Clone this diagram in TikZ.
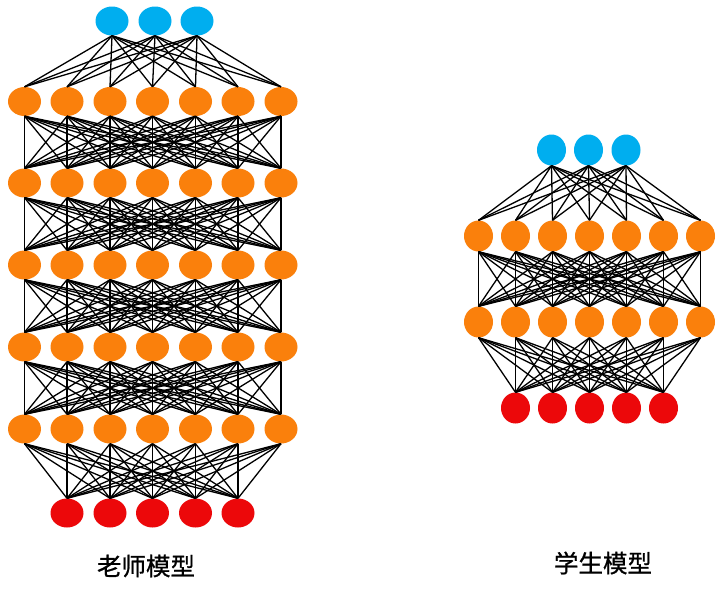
\documentclass[tikz,border=0pt]{standalone}
\usepackage{fontspec}
\newfontfamily\cjk[FakeBold=0.9]{Noto Sans CJK SC}
\usetikzlibrary{shapes.geometric}
\definecolor{nnblue}{RGB}{0,174,239}
\definecolor{nnorange}{RGB}{250,128,12}
\definecolor{nnred}{RGB}{236,8,10}
\tikzset{
  neuron/.style={ellipse, inner sep=0pt, draw=none},
  tneuron/.style={neuron, minimum width=33pt, minimum height=29pt},
  sneuron/.style={neuron, minimum width=29pt, minimum height=31pt},
  bluen/.style={fill=nnblue},
  orangen/.style={fill=nnorange},
  redn/.style={fill=nnred},
  link/.style={black, line width=1.3pt},
  caption/.style={font=\cjk\fontsize{24.5}{28}\selectfont, text=black}
}
\begin{document}
\begin{tikzpicture}[x=1pt,y=-1pt]
\useasboundingbox (0,0) rectangle (720,590);
\fill[white] (0,0) rectangle (720,590);
% ---------- teacher ----------
\foreach \i/\x in {1/112,2/155,3/197}
  \node[tneuron,bluen] (t0-\i) at (\x,21) {};
\foreach \r/\y in {1/101.5,2/183,3/265,4/347,5/429}
  \foreach \i/\x in {1/24.5,2/67,3/110,4/152.5,5/195.5,6/238,7/281}
    \node[tneuron,orangen] (t\r-\i) at (\x,\y) {};
\foreach \i/\x in {1/67,2/110,3/152.5,4/195.5,5/238}
  \node[tneuron,redn] (t6-\i) at (\x,513) {};
\foreach \a in {1,2,3}
  \foreach \b in {1,...,7}
    \draw[link] (t0-\a.south) -- (t1-\b.north);
\foreach \r [evaluate=\r as \n using int(\r+1)] in {1,2,3,4}
  \foreach \a in {1,...,7}
    \foreach \b in {1,...,7}
      \draw[link] (t\r-\a.south) -- (t\n-\b.north);
\foreach \a in {1,...,7}
  \foreach \b in {1,...,5}
    \draw[link] (t5-\a.south) -- (t6-\b.north);
\node[caption] (tlabel) at (146,566) {老师模型};
% ---------- student ----------
\foreach \i/\x in {1/551.5,2/588.5,3/626}
  \node[sneuron,bluen] (s0-\i) at (\x,150) {};
\foreach \r/\y in {1/236,2/322}
  \foreach \i/\x in {1/478.5,2/515.5,3/552.5,4/589.5,5/626.5,6/663.5,7/700.5}
    \node[sneuron,orangen] (s\r-\i) at (\x,\y) {};
\foreach \i/\x in {1/515.5,2/552.5,3/589.5,4/626.5,5/663.5}
  \node[sneuron,redn] (s3-\i) at (\x,408) {};
\foreach \a in {1,2,3}
  \foreach \b in {1,...,7}
    \draw[link] (s0-\a.south) -- (s1-\b.north);
\foreach \a in {1,...,7}
  \foreach \b in {1,...,7}
    \draw[link] (s1-\a.south) -- (s2-\b.north);
\foreach \a in {1,...,7}
  \foreach \b in {1,...,5}
    \draw[link] (s2-\a.south) -- (s3-\b.north);
\node[caption] (slabel) at (603,563) {学生模型};
\end{tikzpicture}
\end{document}
